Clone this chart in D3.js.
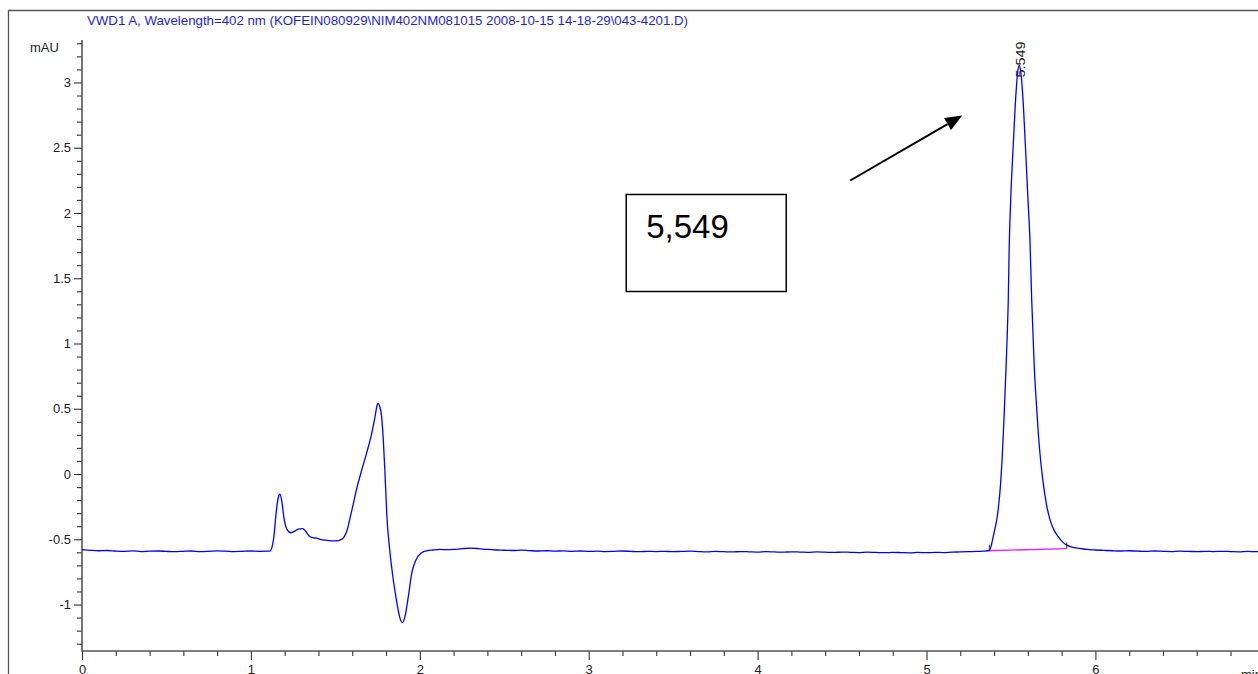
<!DOCTYPE html>
<html>
<head>
<meta charset="utf-8">
<script src="https://cdn.jsdelivr.net/npm/d3@7"></script>
<style>
  html, body { margin: 0; padding: 0; background: #fff; }
  svg { display: block; }
  text { font-family: "Liberation Sans", Arial, sans-serif; }
</style>
</head>
<body>
<script>
// ---- chromatogram data: [time (min), signal (mAU)] ----
const leadBaseline = [
  [0.00,-0.580],[0.05,-0.585],[0.10,-0.588],[0.15,-0.586],[0.20,-0.590],[0.25,-0.592],
  [0.30,-0.589],[0.35,-0.594],[0.40,-0.591],[0.45,-0.590],[0.50,-0.593],[0.55,-0.595],
  [0.60,-0.592],[0.65,-0.590],[0.70,-0.594],[0.75,-0.592],[0.80,-0.589],[0.85,-0.591],
  [0.90,-0.594],[0.95,-0.592],[1.00,-0.590],[1.05,-0.592],[1.10,-0.591]
];
const earlyPeaks = [
  [1.113,-0.590],[1.125,-0.560],[1.135,-0.490],[1.150,-0.290],[1.162,-0.180],[1.172,-0.155],
  [1.182,-0.200],[1.195,-0.330],[1.212,-0.420],[1.236,-0.450],[1.255,-0.440],[1.280,-0.422],
  [1.306,-0.418],[1.325,-0.440],[1.345,-0.475],[1.365,-0.488],[1.390,-0.492],[1.410,-0.500],
  [1.440,-0.507],[1.480,-0.512],[1.510,-0.512],[1.530,-0.505],[1.550,-0.485],[1.567,-0.440],
  [1.590,-0.320],[1.606,-0.230],[1.626,-0.115],[1.656,0.030],[1.685,0.160],[1.715,0.310],
  [1.735,0.440],[1.748,0.530],[1.754,0.542],[1.762,0.520],[1.774,0.440],[1.784,0.260],
  [1.794,0.005],[1.804,-0.300],[1.824,-0.608],[1.843,-0.810],[1.863,-0.978],[1.883,-1.106],
  [1.897,-1.139],[1.912,-1.093],[1.932,-0.940],[1.952,-0.761],[1.972,-0.672],[2.011,-0.603],
  [2.041,-0.588],[2.080,-0.582],[2.120,-0.578]
];
const midBaseline = [
  [2.16,-0.580],[2.20,-0.578],[2.25,-0.572],[2.30,-0.568],[2.35,-0.572],[2.40,-0.578],
  [2.45,-0.582],[2.50,-0.584],[2.55,-0.586],[2.60,-0.583],[2.65,-0.587],[2.70,-0.590],
  [2.75,-0.588],[2.80,-0.591],[2.85,-0.589],[2.90,-0.592],[2.95,-0.590],[3.00,-0.593],
  [3.05,-0.591],[3.10,-0.594],[3.15,-0.592],[3.20,-0.590],[3.25,-0.593],[3.30,-0.595],
  [3.35,-0.592],[3.40,-0.594],[3.45,-0.592],[3.50,-0.595],[3.55,-0.593],[3.60,-0.591],
  [3.65,-0.594],[3.70,-0.596],[3.75,-0.593],[3.80,-0.595],[3.85,-0.597],[3.90,-0.594],
  [3.95,-0.596],[4.00,-0.598],[4.05,-0.595],[4.10,-0.597],[4.15,-0.599],[4.20,-0.596],
  [4.25,-0.598],[4.30,-0.600],[4.35,-0.597],[4.40,-0.599],[4.45,-0.601],[4.50,-0.598],
  [4.55,-0.600],[4.60,-0.602],[4.65,-0.599],[4.70,-0.601],[4.75,-0.603],[4.80,-0.600],
  [4.85,-0.602],[4.90,-0.604],[4.95,-0.601],[5.00,-0.603],[5.05,-0.600],[5.10,-0.602],
  [5.15,-0.599],[5.20,-0.597],[5.25,-0.595],[5.30,-0.593],[5.34,-0.591]
];
const mainPeak = [
  [5.372,-0.586],[5.385,-0.540],[5.395,-0.480],[5.405,-0.420],[5.416,-0.350],[5.428,-0.230],
  [5.439,-0.070],[5.447,0.100],[5.455,0.310],[5.463,0.560],[5.471,0.820],[5.478,1.070],
  [5.484,1.330],[5.490,1.760],[5.500,2.150],[5.514,2.530],[5.530,2.920],[5.540,3.080],
  [5.549,3.130],[5.558,3.080],[5.569,2.920],[5.585,2.530],[5.599,2.150],[5.613,1.770],
  [5.623,1.330],[5.638,0.820],[5.650,0.550],[5.662,0.310],[5.676,0.100],[5.691,-0.070],
  [5.710,-0.230],[5.731,-0.350],[5.755,-0.430],[5.780,-0.480],[5.805,-0.520],[5.830,-0.545],
  [5.860,-0.560],[5.909,-0.570],[5.950,-0.578]
];
const tailBaseline = [
  [6.00,-0.582],[6.05,-0.585],[6.10,-0.588],[6.15,-0.590],[6.20,-0.588],[6.25,-0.591],
  [6.30,-0.593],[6.35,-0.590],[6.40,-0.592],[6.45,-0.594],[6.50,-0.591],[6.55,-0.593],
  [6.60,-0.595],[6.65,-0.592],[6.70,-0.594],[6.75,-0.592],[6.80,-0.594],[6.85,-0.596],
  [6.90,-0.593],[6.95,-0.595],[7.00,-0.594]
];

// integrated peak: retention time, apex height, baseline start/end
const peakRT = 5.549;
const peakHeight = 3.13;
const integrationBaseline = [[5.372,-0.588],[5.830,-0.571]];

// axis ticks and texts
const yMajorTicks = [-1,-0.5,0,0.5,1,1.5,2,2.5,3];
const yMinorTicks = d3.range(-13, 34).map(i => i / 10);
const xMajorTicks = [0,1,2,3,4,5,6,7];
const xMinorTicks = d3.range(0, 36).map(i => i / 5);
const titleText = "VWD1 A, Wavelength=402 nm (KOFEIN080929\\NIM402NM081015 2008-10-15 14-18-29\\043-4201.D)";
const yUnit = "mAU";
const xUnit = "min";
const peakLabel = "5.549";
const calloutText = "5,549";

const signal = [].concat(leadBaseline, earlyPeaks, midBaseline, mainPeak, tailBaseline);

// ---- layout ----
const W = 1258, H = 674;
const svg = d3.select("body").append("svg").attr("width", W).attr("height", H);
svg.append("rect").attr("width", W).attr("height", H).attr("fill", "#fff");

const x = d3.scaleLinear().domain([0, 7]).range([82, 1264.3]);
const y = d3.scaleLinear().domain([-1.356, 3.31]).range([651, 42]);

// outer frame
svg.append("path")
  .attr("d", `M8.5,${H + 2} V10.5 H${W + 2}`)
  .attr("fill", "none").attr("stroke", "#555").attr("stroke-width", 1.3);

// title
svg.append("text")
  .attr("x", 87).attr("y", 25)
  .attr("font-size", 13).attr("fill", "#1e1ee6")
  .attr("textLength", 601).attr("lengthAdjust", "spacingAndGlyphs")
  .text(titleText);

// y axis
const fmt = d => String(d);
const yMinor = svg.append("g").attr("transform", "translate(82,0)")
  .call(d3.axisLeft(y).tickValues(yMinorTicks.filter(v => !yMajorTicks.includes(v))).tickSize(5).tickFormat(""));
const yMajor = svg.append("g").attr("transform", "translate(82,0)")
  .call(d3.axisLeft(y).tickValues(yMajorTicks).tickSize(8).tickPadding(3).tickFormat(fmt));
[yMinor, yMajor].forEach(g => {
  g.select(".domain").remove();
  g.selectAll("line").attr("stroke", "#333").attr("stroke-width", 1.1);
});
yMajor.selectAll("text").attr("font-size", 13).attr("fill", "#222")
  .attr("font-family", "'Liberation Sans', Arial, sans-serif");

// x axis
const xMinor = svg.append("g").attr("transform", "translate(0,651)")
  .call(d3.axisBottom(x).tickValues(xMinorTicks.filter(v => !xMajorTicks.includes(v))).tickSize(5).tickFormat(""));
const xMajor = svg.append("g").attr("transform", "translate(0,651)")
  .call(d3.axisBottom(x).tickValues(xMajorTicks).tickSize(9).tickPadding(5).tickFormat(fmt));
[xMinor, xMajor].forEach(g => {
  g.select(".domain").remove();
  g.selectAll("line").attr("stroke", "#333").attr("stroke-width", 1.1);
});
xMajor.selectAll("text").attr("font-size", 13).attr("fill", "#222")
  .attr("font-family", "'Liberation Sans', Arial, sans-serif");

// axis lines
svg.append("path")
  .attr("d", `M82,40 V651 H${W + 2}`)
  .attr("fill", "none").attr("stroke", "#555").attr("stroke-width", 1.6);

// axis unit labels
svg.append("text").attr("x", 30).attr("y", 52).attr("font-size", 13).attr("fill", "#222").text(yUnit);
svg.append("text").attr("x", 1241).attr("y", 679).attr("font-size", 13).attr("fill", "#222").text(xUnit);

// integration baseline and peak start/end marks
svg.append("line")
  .attr("x1", x(integrationBaseline[0][0])).attr("y1", y(integrationBaseline[0][1]))
  .attr("x2", x(integrationBaseline[1][0])).attr("y2", y(integrationBaseline[1][1]))
  .attr("stroke", "#ee22ee").attr("stroke-width", 1.3);
integrationBaseline.forEach((p, i) => {
  svg.append("line")
    .attr("x1", x(p[0])).attr("x2", x(p[0]))
    .attr("y1", y(p[1])).attr("y2", y(p[1]) - 6)
    .attr("stroke", i === 0 ? "#333" : "#6a1f4f").attr("stroke-width", 1);
});

// signal trace
const line = d3.line().x(d => x(d[0])).y(d => y(d[1])).curve(d3.curveMonotoneX);
svg.append("path").datum(signal)
  .attr("d", line)
  .attr("fill", "none").attr("stroke", "#0000ff").attr("stroke-width", 1.3)
  .attr("stroke-linejoin", "round");

// retention time label on the apex
const px = x(peakRT), py = y(peakHeight);
svg.append("text")
  .attr("transform", `translate(${px + 6},${py + 12}) rotate(-90)`)
  .attr("font-size", 13).attr("fill", "#222")
  .attr("textLength", 36).attr("lengthAdjust", "spacingAndGlyphs")
  .text(peakLabel);

// callout box and arrow pointing to the main peak
const boxX = px - 393, boxY = py + 129, boxW = 160, boxH = 97;
svg.append("rect")
  .attr("x", boxX).attr("y", boxY).attr("width", boxW).attr("height", boxH)
  .attr("fill", "none").attr("stroke", "#000").attr("stroke-width", 1.5);
svg.append("text")
  .attr("x", boxX + 20).attr("y", boxY + 44)
  .attr("font-size", 33).attr("fill", "#000")
  .text(calloutText);

const ax0 = px - 169, ay0 = py + 115, ax1 = px - 57, ay1 = py + 50;
const ang = Math.atan2(ay1 - ay0, ax1 - ax0);
const headLen = 17, headHalf = 7;
const bx = ax1 - headLen * Math.cos(ang), by = ay1 - headLen * Math.sin(ang);
svg.append("line")
  .attr("x1", ax0).attr("y1", ay0).attr("x2", bx).attr("y2", by)
  .attr("stroke", "#000").attr("stroke-width", 2);
svg.append("path")
  .attr("d", d3.line()([
    [ax1, ay1],
    [bx + headHalf * Math.sin(ang), by - headHalf * Math.cos(ang)],
    [bx - headHalf * Math.sin(ang), by + headHalf * Math.cos(ang)]
  ]) + "Z")
  .attr("fill", "#000");
</script>
</body>
</html>
